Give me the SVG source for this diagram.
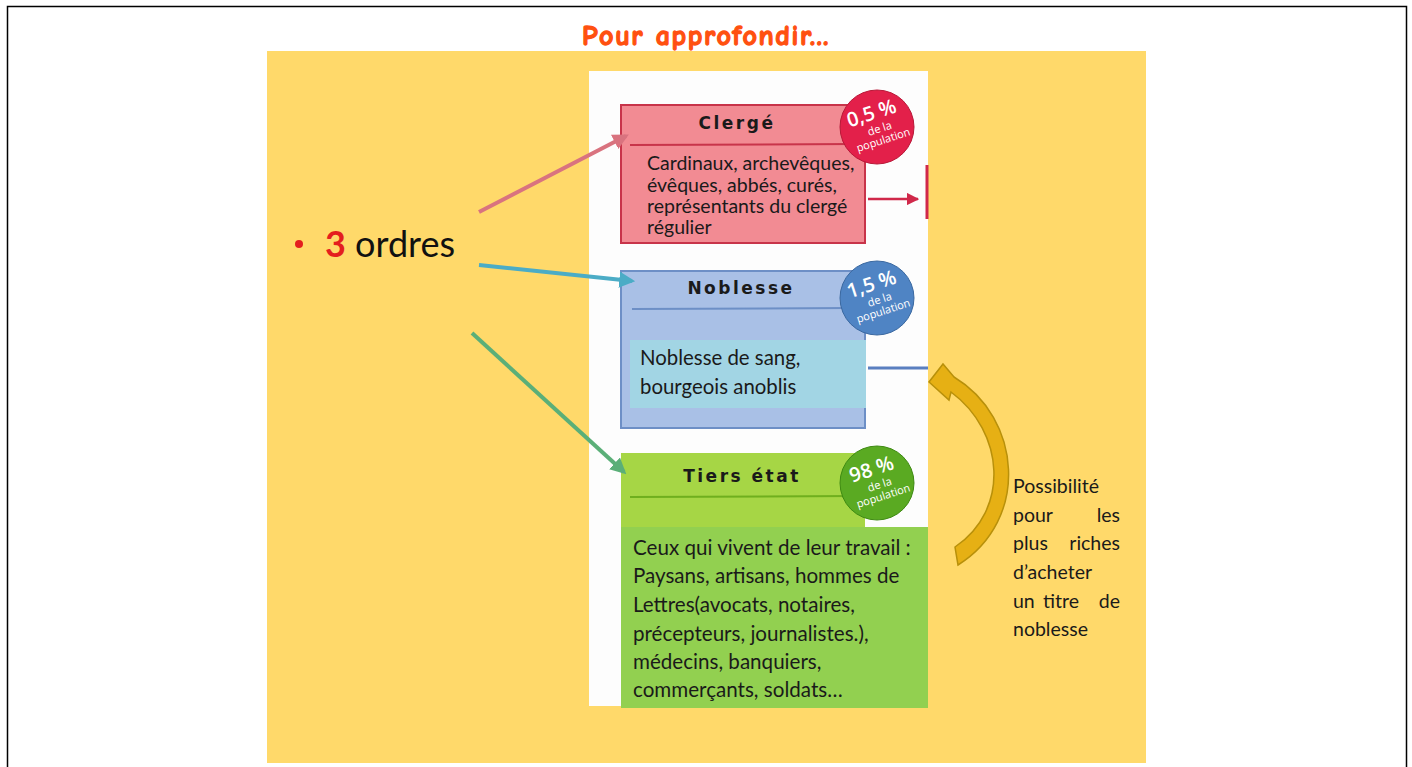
<svg xmlns="http://www.w3.org/2000/svg" width="1412" height="767" viewBox="0 0 1412 767">
<defs>
<style>
.body{font-family:Lato,"Open Sans","Liberation Sans",sans-serif;fill:#1a1a1a}
.head{font-family:"DejaVu Sans","Liberation Sans",sans-serif;font-weight:bold;fill:#1a1a1a;letter-spacing:2.5px;text-anchor:middle;font-size:17px}
.pct{font-family:"Open Sans","Liberation Sans",sans-serif;fill:#fff;text-anchor:middle}
.conn{fill:none;stroke-width:4}
</style>
<marker id="mPink" viewBox="0 0 10 10" refX="8" refY="5" markerWidth="4" markerHeight="4" orient="auto"><path d="M0,0 L10,5 L0,10 z" fill="#D9737F"/></marker>
<marker id="mBlue" viewBox="0 0 10 10" refX="8" refY="5" markerWidth="4" markerHeight="4" orient="auto"><path d="M0,0 L10,5 L0,10 z" fill="#4BACC6"/></marker>
<marker id="mGreen" viewBox="0 0 10 10" refX="8" refY="5" markerWidth="4" markerHeight="4" orient="auto"><path d="M0,0 L10,5 L0,10 z" fill="#5BAF78"/></marker>
<marker id="mRed" viewBox="0 0 10 10" refX="9" refY="5" markerWidth="5" markerHeight="5" orient="auto"><path d="M0,0 L10,5 L0,10 z" fill="#D0284A"/></marker>
</defs>
<rect x="0" y="0" width="1412" height="767" fill="#fff"/>
<path d="M7.5,770 V6.5 H1406.5 V770" fill="none" stroke="#000" stroke-width="1.5"/>
<text x="706" y="45" text-anchor="middle" font-family="'Comic Neue','DejaVu Sans','Liberation Sans',sans-serif" font-weight="bold" font-size="28" letter-spacing="1.6" fill="#FF5010" stroke="#FF5010" stroke-width="1.3">Pour approfondir...</text>
<rect x="267" y="51" width="879" height="712" fill="#FFD96A"/>
<rect x="589" y="71" width="339" height="635" fill="#fdfdfd"/>

<g id="clerge">
<rect x="621" y="105" width="244" height="138" fill="#F28B93" stroke="#C8344A" stroke-width="2"/>
<line x1="630" y1="145" x2="855" y2="144" stroke="#C8344A" stroke-width="2"/>
<text x="737" y="129" class="head">Clergé</text>
<text class="body" font-size="19.5"><tspan x="647" y="170">Cardinaux, archevêques,</tspan><tspan x="647" y="192">évêques, abbés, curés,</tspan><tspan x="647" y="213">représentants du clergé</tspan><tspan x="647" y="234">régulier</tspan></text>
<circle cx="877" cy="127" r="37" fill="#E3204A" stroke="#B81838" stroke-width="1"/>
<g transform="rotate(-18 877 127)"><text x="876" y="119" class="pct" font-size="20" font-weight="600">0,5 %</text><text x="879" y="133" class="pct" font-size="11">de la</text><text x="879" y="145" class="pct" font-size="11">population</text></g>
<line x1="868" y1="199" x2="918" y2="199" stroke="#D0284A" stroke-width="2.5" marker-end="url(#mRed)"/>
<line x1="927" y1="165" x2="927" y2="219" stroke="#D0284A" stroke-width="3"/>
</g>

<g id="noblesse">
<rect x="621" y="271" width="244" height="157" fill="#A9C0E6" stroke="#6D8FC6" stroke-width="2"/>
<line x1="632" y1="309" x2="850" y2="308" stroke="#6D8FC6" stroke-width="2"/>
<text x="741" y="294" class="head">Noblesse</text>
<rect x="630" y="340" width="236" height="68" fill="#A2D5E4"/>
<text class="body" font-size="20.4"><tspan x="640" y="365">Noblesse de sang,</tspan><tspan x="640" y="394">bourgeois anoblis</tspan></text>
<circle cx="877" cy="298" r="37" fill="#4F84C4" stroke="#3A68A0" stroke-width="1"/>
<g transform="rotate(-18 877 298)"><text x="876" y="290" class="pct" font-size="20" font-weight="600">1,5 %</text><text x="879" y="304" class="pct" font-size="11">de la</text><text x="879" y="316" class="pct" font-size="11">population</text></g>
<line x1="868" y1="368" x2="928" y2="368" stroke="#5A7FC0" stroke-width="3"/>
</g>

<g id="tiers">
<rect x="621" y="453" width="244" height="80" fill="#A6D645"/>
<line x1="630" y1="497" x2="855" y2="496" stroke="#6FAF1E" stroke-width="2"/>
<text x="742" y="482" class="head">Tiers état</text>
<rect x="621" y="527" width="307" height="181" fill="#92D050"/>
<text class="body" font-size="20.6"><tspan x="633" y="555">Ceux qui vivent de leur travail :</tspan><tspan x="633" y="583">Paysans,  artisans, hommes de</tspan><tspan x="633" y="612">Lettres(avocats, notaires,</tspan><tspan x="633" y="641">précepteurs, journalistes.),</tspan><tspan x="633" y="669">médecins, banquiers,</tspan><tspan x="633" y="697">commerçants, soldats…</tspan></text>
<circle cx="877" cy="483" r="37" fill="#5AAA22" stroke="#3E8A12" stroke-width="1"/>
<g transform="rotate(-18 877 483)"><text x="876" y="475" class="pct" font-size="20" font-weight="600">98 %</text><text x="879" y="489" class="pct" font-size="11">de la</text><text x="879" y="501" class="pct" font-size="11">population</text></g>
</g>

<g id="ordres">
<circle cx="299" cy="244" r="4" fill="#E41E1E"/>
<text y="257" font-family="Lato,'Open Sans','Liberation Sans',sans-serif" font-size="36"><tspan x="325" fill="#E41E1E" font-weight="bold">3</tspan><tspan fill="#111"> ordres</tspan></text>
</g>

<g id="note">
<text class="body" font-size="19.5"><tspan x="1013" y="493">Possibilité</tspan><tspan x="1013" y="522">pour</tspan><tspan x="1120" y="522" text-anchor="end">les</tspan><tspan x="1013" y="550">plus</tspan><tspan x="1120" y="550" text-anchor="end">riches</tspan><tspan x="1013" y="579">d’acheter</tspan><tspan x="1013" y="608">un</tspan><tspan x="1043" y="608">titre</tspan><tspan x="1120" y="608" text-anchor="end">de</tspan><tspan x="1013" y="636">noblesse</tspan></text>
</g>

<g id="connectors">
<line x1="479" y1="212" x2="626" y2="136" class="conn" stroke="#D9737F" marker-end="url(#mPink)"/>
<line x1="479" y1="265" x2="632" y2="281" class="conn" stroke="#4BACC6" marker-end="url(#mBlue)"/>
<line x1="472" y1="333" x2="624" y2="472" class="conn" stroke="#5BAF78" marker-end="url(#mGreen)"/>
<path d="M958,565 C1030,520 1022,418 954,377 L943,364 L929,382 L949,400 L951,392 C1005,432 1010,510 955,547 Z" fill="#E6B014" stroke="#B8900A" stroke-width="1.5"/>
</g>
</svg>
